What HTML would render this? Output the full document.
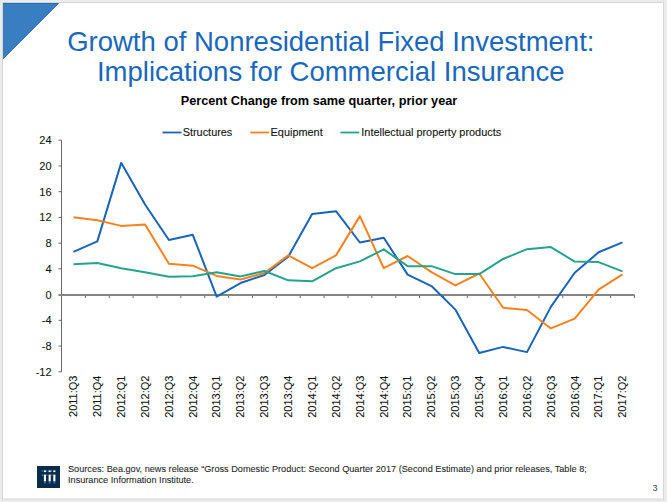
<!DOCTYPE html>
<html><head><meta charset="utf-8"><style>
html,body{margin:0;padding:0;background:#ebebeb;}
body{width:667px;height:502px;overflow:hidden;position:relative;font-family:"Liberation Sans",sans-serif;}
svg{position:absolute;left:0;top:0;}

.yl{font-size:11px;text-anchor:end;fill:#111;stroke:#111;stroke-width:0.08px;}
.xl{font-size:11px;text-anchor:end;fill:#111;stroke:#111;stroke-width:0.08px;}
.t{font-size:27.5px;fill:#1a68bb;text-anchor:middle;}
.st{font-size:12.7px;font-weight:bold;fill:#000;text-anchor:middle;}
.lg{font-size:10.9px;fill:#111;stroke:#111;stroke-width:0.1px;}
.ft{font-size:9.17px;fill:#262626;stroke:#262626;stroke-width:0.08px;}
</style></head><body>
<svg width="667" height="502" viewBox="0 0 667 502">
<rect x="2.5" y="2.5" width="661" height="496.5" fill="#ffffff" stroke="#d6d6d6" stroke-width="1"/>
<polygon points="3,3 59,3 3,59" fill="#3a7ec2"/>
<polyline points="3,3.5 58.3,3.5 3,58.8" fill="none" stroke="#2169b9" stroke-width="1"/>
<text class="t" x="330.8" y="51.0">Growth of Nonresidential Fixed Investment:</text>
<text class="t" x="330.8" y="80.8">Implications for Commercial Insurance</text>
<text class="st" x="319" y="105.4">Percent Change from same quarter, prior year</text>
<g stroke-width="1.8" fill="none">
<line x1="162.5" y1="132.5" x2="181.5" y2="132.5" stroke="#1a64b8"/>
<line x1="250.4" y1="132.5" x2="269" y2="132.5" stroke="#f5821f"/>
<line x1="340.4" y1="132.5" x2="359.3" y2="132.5" stroke="#25a38c"/>
</g>
<text class="lg" x="182.7" y="136.1">Structures</text>
<text class="lg" x="270.6" y="136.1">Equipment</text>
<text class="lg" x="361.3" y="136.1">Intellectual property products</text>
<g stroke="#686868" stroke-width="1" fill="none">
<line x1="61.5" y1="140.20" x2="61.5" y2="371.80"/>
<line x1="58.5" y1="140.20" x2="61.5" y2="140.20"/>
<line x1="58.5" y1="165.93" x2="61.5" y2="165.93"/>
<line x1="58.5" y1="191.67" x2="61.5" y2="191.67"/>
<line x1="58.5" y1="217.40" x2="61.5" y2="217.40"/>
<line x1="58.5" y1="243.13" x2="61.5" y2="243.13"/>
<line x1="58.5" y1="268.87" x2="61.5" y2="268.87"/>
<line x1="58.5" y1="320.33" x2="61.5" y2="320.33"/>
<line x1="58.5" y1="346.07" x2="61.5" y2="346.07"/>
<line x1="58.5" y1="371.80" x2="61.5" y2="371.80"/>
<line x1="85.37" y1="295" x2="85.37" y2="298"/>
<line x1="109.24" y1="295" x2="109.24" y2="298"/>
<line x1="133.11" y1="295" x2="133.11" y2="298"/>
<line x1="156.98" y1="295" x2="156.98" y2="298"/>
<line x1="180.85" y1="295" x2="180.85" y2="298"/>
<line x1="204.72" y1="295" x2="204.72" y2="298"/>
<line x1="228.60" y1="295" x2="228.60" y2="298"/>
<line x1="252.47" y1="295" x2="252.47" y2="298"/>
<line x1="276.34" y1="295" x2="276.34" y2="298"/>
<line x1="300.21" y1="295" x2="300.21" y2="298"/>
<line x1="324.08" y1="295" x2="324.08" y2="298"/>
<line x1="347.95" y1="295" x2="347.95" y2="298"/>
<line x1="371.82" y1="295" x2="371.82" y2="298"/>
<line x1="395.69" y1="295" x2="395.69" y2="298"/>
<line x1="419.56" y1="295" x2="419.56" y2="298"/>
<line x1="443.43" y1="295" x2="443.43" y2="298"/>
<line x1="467.30" y1="295" x2="467.30" y2="298"/>
<line x1="491.18" y1="295" x2="491.18" y2="298"/>
<line x1="515.05" y1="295" x2="515.05" y2="298"/>
<line x1="538.92" y1="295" x2="538.92" y2="298"/>
<line x1="562.79" y1="295" x2="562.79" y2="298"/>
<line x1="586.66" y1="295" x2="586.66" y2="298"/>
<line x1="610.53" y1="295" x2="610.53" y2="298"/>
<line x1="634.40" y1="295" x2="634.40" y2="298"/>
</g>
<line x1="58.5" y1="295.00" x2="634.40" y2="295.00" stroke="#858585" stroke-width="2"/>
<text class="yl" x="51.6" y="144.20">24</text>
<text class="yl" x="51.6" y="169.93">20</text>
<text class="yl" x="51.6" y="195.67">16</text>
<text class="yl" x="51.6" y="221.40">12</text>
<text class="yl" x="51.6" y="247.13">8</text>
<text class="yl" x="51.6" y="272.87">4</text>
<text class="yl" x="51.6" y="298.60">0</text>
<text class="yl" x="51.6" y="324.33">-4</text>
<text class="yl" x="51.6" y="350.07">-8</text>
<text class="yl" x="51.6" y="375.80">-12</text>
<text class="xl" transform="translate(77.24,375.6) rotate(-90)">2011:Q3</text>
<text class="xl" transform="translate(101.11,375.6) rotate(-90)">2011:Q4</text>
<text class="xl" transform="translate(124.98,375.6) rotate(-90)">2012:Q1</text>
<text class="xl" transform="translate(148.85,375.6) rotate(-90)">2012:Q2</text>
<text class="xl" transform="translate(172.72,375.6) rotate(-90)">2012:Q3</text>
<text class="xl" transform="translate(196.59,375.6) rotate(-90)">2012:Q4</text>
<text class="xl" transform="translate(220.46,375.6) rotate(-90)">2013:Q1</text>
<text class="xl" transform="translate(244.33,375.6) rotate(-90)">2013:Q2</text>
<text class="xl" transform="translate(268.20,375.6) rotate(-90)">2013:Q3</text>
<text class="xl" transform="translate(292.07,375.6) rotate(-90)">2013:Q4</text>
<text class="xl" transform="translate(315.94,375.6) rotate(-90)">2014:Q1</text>
<text class="xl" transform="translate(339.81,375.6) rotate(-90)">2014:Q2</text>
<text class="xl" transform="translate(363.69,375.6) rotate(-90)">2014:Q3</text>
<text class="xl" transform="translate(387.56,375.6) rotate(-90)">2014:Q4</text>
<text class="xl" transform="translate(411.43,375.6) rotate(-90)">2015:Q1</text>
<text class="xl" transform="translate(435.30,375.6) rotate(-90)">2015:Q2</text>
<text class="xl" transform="translate(459.17,375.6) rotate(-90)">2015:Q3</text>
<text class="xl" transform="translate(483.04,375.6) rotate(-90)">2015:Q4</text>
<text class="xl" transform="translate(506.91,375.6) rotate(-90)">2016:Q1</text>
<text class="xl" transform="translate(530.78,375.6) rotate(-90)">2016:Q2</text>
<text class="xl" transform="translate(554.65,375.6) rotate(-90)">2016:Q3</text>
<text class="xl" transform="translate(578.52,375.6) rotate(-90)">2016:Q4</text>
<text class="xl" transform="translate(602.39,375.6) rotate(-90)">2017:Q1</text>
<text class="xl" transform="translate(626.26,375.6) rotate(-90)">2017:Q2</text>
<g fill="none" stroke-width="2" stroke-linejoin="round">
<polyline points="73.44,251.82 97.31,241.40 121.18,162.85 145.05,204.53 168.92,240.05 192.79,234.77 216.66,296.53 240.53,283.02 264.40,274.98 288.27,256.64 312.14,213.99 336.01,211.16 359.89,242.49 383.76,237.67 407.63,274.66 431.50,286.04 455.37,309.59 479.24,352.95 503.11,346.90 526.98,352.11 550.85,306.89 574.72,272.73 598.59,252.27 622.46,242.36" stroke="#1a64b8"/>
<polyline points="73.44,217.21 97.31,220.17 121.18,225.89 145.05,224.48 168.92,263.72 192.79,265.65 216.66,275.94 240.53,279.48 264.40,273.05 288.27,255.36 312.14,268.22 336.01,255.36 359.89,216.11 383.76,268.22 407.63,256.00 431.50,272.15 455.37,285.46 479.24,273.50 503.11,307.79 526.98,310.04 550.85,328.44 574.72,318.60 598.59,289.58 622.46,274.46" stroke="#f5821f"/>
<polyline points="73.44,264.36 97.31,263.08 121.18,268.22 145.05,272.21 168.92,276.84 192.79,276.27 216.66,272.28 240.53,276.39 264.40,270.99 288.27,280.32 312.14,281.28 336.01,268.22 359.89,261.40 383.76,249.37 407.63,266.16 431.50,266.16 455.37,274.08 479.24,274.08 503.11,258.96 526.98,249.18 550.85,247.06 574.72,261.60 598.59,262.11 622.46,271.44" stroke="#25a38c"/>
</g>
<text class="ft" x="68" y="471.7">Sources: Bea.gov, news release “Gross Domestic Product: Second Quarter 2017 (Second Estimate) and prior releases, Table 8;</text>
<text class="ft" x="68" y="482.6">Insurance Information Institute.</text>
<rect x="37" y="466" width="23" height="22" fill="#0a2c4b"/>
<g fill="#2f7fd0">
<rect x="41.5" y="470.3" width="1.5" height="1.2"/>
<rect x="46.2" y="470.3" width="1.2" height="1.2"/>
<rect x="51" y="470.3" width="1.2" height="1.2"/>
<rect x="41.8" y="474.5" width="1.5" height="1.5"/>
<rect x="46.4" y="474.5" width="1.2" height="1.2"/>
<rect x="51.2" y="474.5" width="1.2" height="1.2"/>
<rect x="44" y="482.2" width="2" height="1.2"/>
<rect x="48.7" y="482.2" width="2" height="1.2"/>
<rect x="53.4" y="482.2" width="2" height="1.2"/>
</g>
<g fill="#ffffff">
<rect x="43.9" y="474.6" width="2.1" height="6.8"/>
<rect x="48.6" y="474.6" width="2.1" height="6.8"/>
<rect x="53.3" y="474.6" width="2.1" height="6.8"/>
<rect x="43.9" y="470.4" width="2.1" height="1.7"/>
<rect x="48.6" y="470.4" width="2.1" height="1.7"/>
<rect x="53.3" y="470.4" width="2.1" height="1.7"/>
</g>
<text x="657.5" y="491" style="font-size:9px;fill:#404040;text-anchor:end">3</text>
</svg>
</body></html>
